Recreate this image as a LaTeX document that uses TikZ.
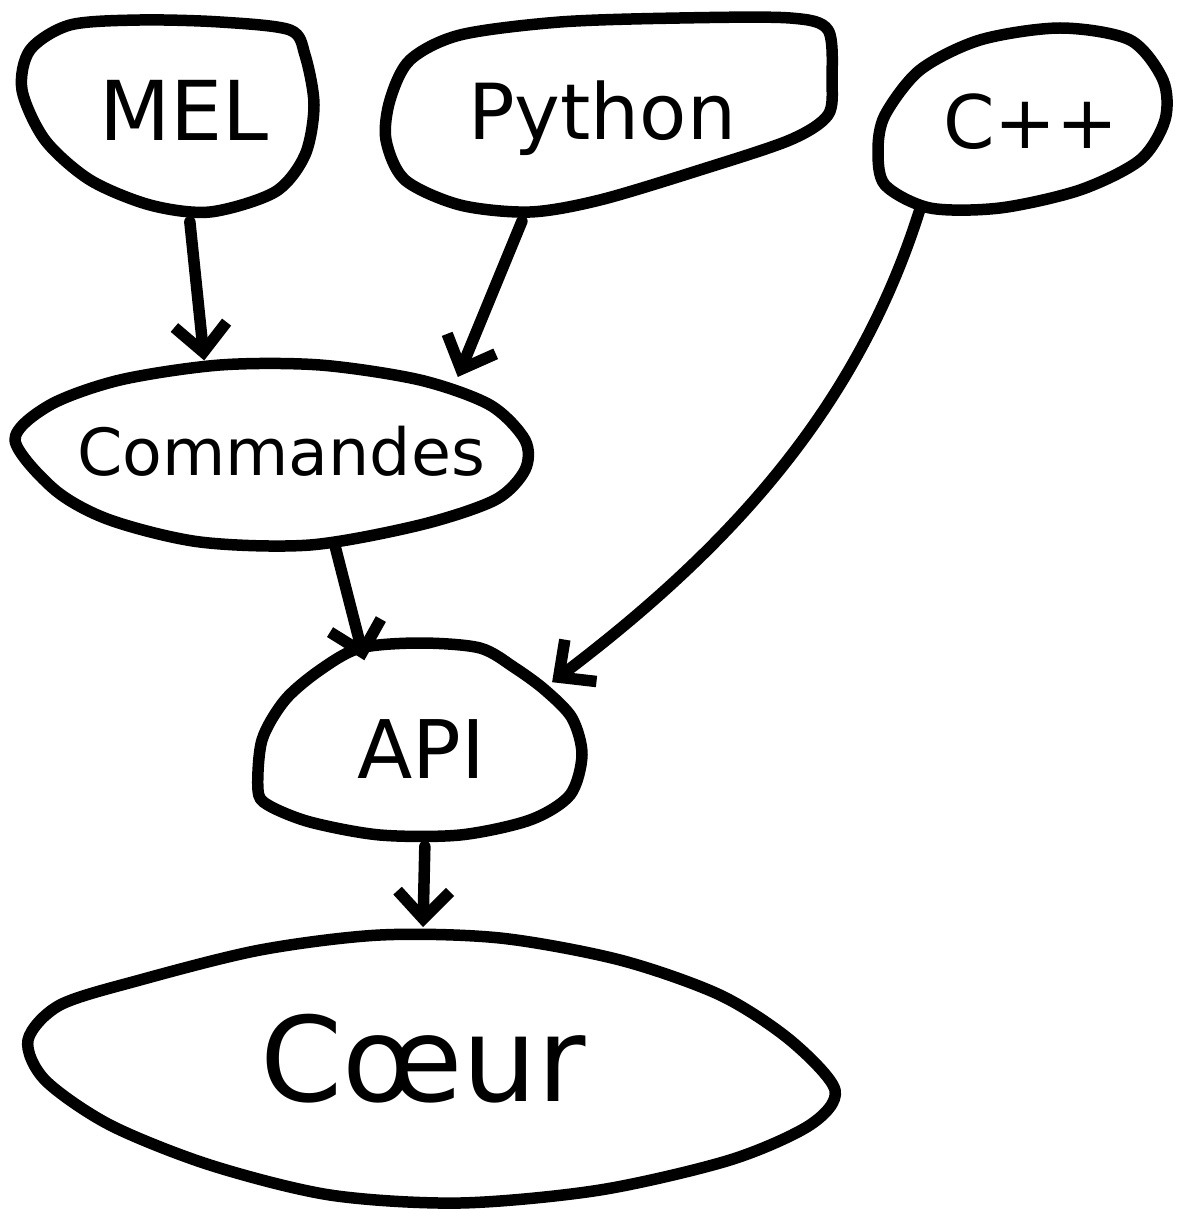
\documentclass[tikz,border=0pt]{standalone}
\usepackage{fontspec}
\setmainfont{DejaVu Sans}
\usetikzlibrary{arrows.meta,shapes.geometric}
\tikzset{
  blob/.style={ellipse,inner sep=0pt,outer sep=0pt,font=\fontsize{#1}{#1}\selectfont,
    text height=0.73*#1pt,text depth=0pt},
  hand/.style={line width=0.23cm,line join=round,line cap=round},
  arr/.style={hand,-{Straight Barb[length=0.55cm,width=1.05cm]}},
}
\begin{document}
\begin{tikzpicture}[x=0.02cm,y=-0.02cm]
\useasboundingbox (0,0) rectangle (1188,1209);
% hand-drawn outlines
\draw[hand] plot[smooth cycle] coordinates {(30,50) (70,25) (140,20) (220,22) (290,30) (305,55) (314,105) (305,155) (275,192) (210,212) (150,205) (90,180) (45,140) (22,90)};
\draw[hand] plot[smooth cycle] coordinates {(390,100) (410,60) (460,35) (560,22) (680,18) (790,18) (828,30) (832,80) (828,115) (790,140) (700,170) (600,200) (530,212) (460,205) (405,180) (386,140)};
\draw[hand] plot[smooth cycle] coordinates {(878,150) (885,115) (920,70) (980,40) (1060,28) (1130,40) (1163,80) (1165,120) (1140,160) (1080,190) (1000,208) (930,208) (885,185)};
\draw[hand] plot[smooth cycle] coordinates {(15,440) (50,405) (120,380) (220,365) (320,365) (420,380) (490,405) (525,440) (525,470) (495,500) (420,525) (310,545) (200,542) (110,520) (55,490)};
\draw[hand] plot[smooth cycle] coordinates {(258,790) (262,740) (285,700) (320,670) (360,648) (420,643) (480,648) (515,668) (545,690) (572,718) (582,755) (570,795) (530,820) (460,835) (380,835) (310,822) (268,805)};
\draw[hand] plot[smooth cycle] coordinates {(28,1040) (60,1005) (140,980) (260,950) (380,935) (500,938) (620,960) (720,995) (790,1040) (835,1090) (810,1125) (730,1160) (600,1190) (460,1203) (330,1195) (210,1165) (110,1125) (45,1080)};
% labels
\node[blob=47,minimum width=5.88cm,minimum height=4.48cm] (mel) at (184,110) {MEL};
\node[blob=44,minimum width=9cm,minimum height=4.72cm] (python) at (602,111) {Python};
\node[blob=42,minimum width=7.2cm,minimum height=4.4cm] (cpp) at (1031,122) {C++};
\node[blob=37,minimum width=10.6cm,minimum height=3.8cm] (cmd) at (281,452) {Commandes};
\node[blob=46,minimum width=6.8cm,minimum height=4.2cm] (api) at (421,749) {API};
\node[blob=67,minimum width=16.4cm,minimum height=5.28cm] (coeur) at (423,1059) {Cœur};
% connectors
\draw[arr] (mel.-87) -- (cmd.130);
\draw[arr] (python.-126.5) -- (cmd.23);
\draw[arr] (cpp.-142.7) .. controls (860,400) and (740,540) .. (api.27);
\draw[arr,shorten >=-0.2cm] (cmd.-60) -- (api.121);
\draw[arr,shorten <=-0.15cm] (api.-88) -- (coeur.90);
\end{tikzpicture}
\end{document}
